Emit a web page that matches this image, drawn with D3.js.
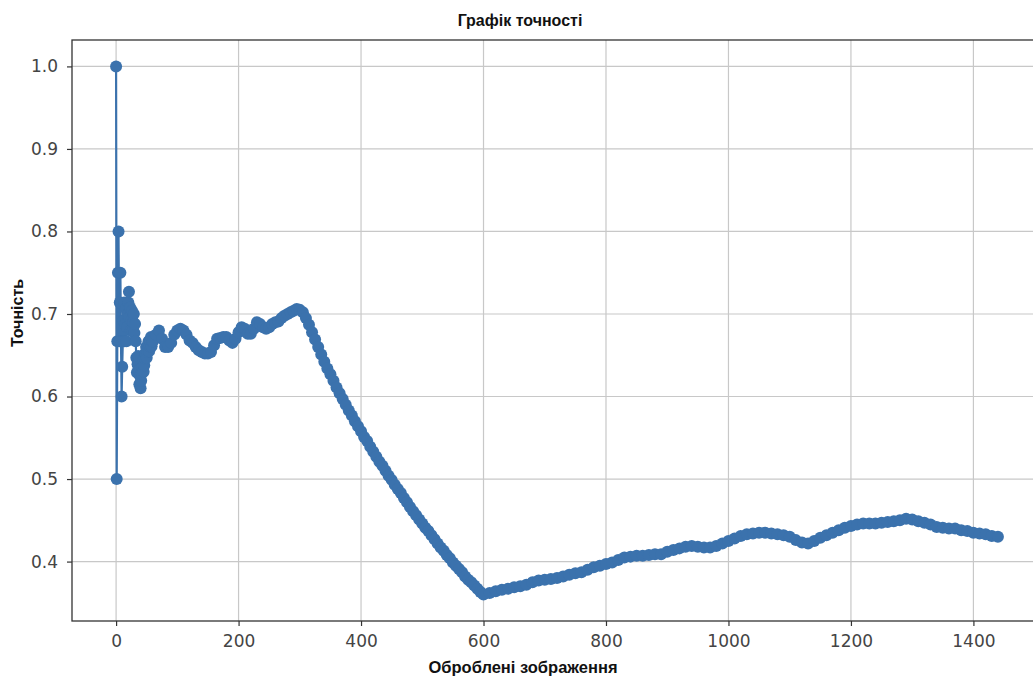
<!DOCTYPE html>
<html>
<head>
<meta charset="utf-8">
<script src="https://cdn.jsdelivr.net/npm/d3@7"></script>
<style>
  html, body { margin: 0; padding: 0; background: #fff; }
  svg { display: block; font-family: "Liberation Sans", Arial, sans-serif; }
  .axis text { font-family: "DejaVu Sans", sans-serif; font-size: 17px; fill: #444; }
  .axis path { display: none; }
  .axis line { stroke: #333; stroke-width: 1.2; }
  .grid line { stroke: #c8c8c8; stroke-width: 1.2; }
  .title, .axis-name { font-weight: bold; fill: #111; }
</style>
</head>
<body>
<svg id="chart" width="1033" height="677"></svg>
<script>
'use strict';

// Accuracy, in segments with a fixed image step.
const earlyStart = 0, earlyStep = 1;
const earlyAcc = [
  1.0, 0.5, 0.667, 0.75, 0.8, 0.667, 0.714, 0.75, 0.667, 0.6,
  0.636, 0.667, 0.692, 0.714, 0.667, 0.688, 0.706, 0.667, 0.684, 0.7,
  0.714, 0.727, 0.696, 0.708, 0.68, 0.692, 0.704, 0.679, 0.69, 0.7,
  0.677, 0.688, 0.667, 0.647, 0.629, 0.639, 0.649, 0.632, 0.615, 0.625,
  0.61, 0.619, 0.628, 0.636, 0.644, 0.63, 0.638, 0.646, 0.653, 0.66,
  0.647, 0.654, 0.66, 0.667, 0.655, 0.661, 0.667, 0.672, 0.661, 0.667
];

const midStart = 60, midStep = 5;
const midAcc = [
  0.667, 0.675, 0.680, 0.670, 0.660, 0.660, 0.665, 0.675, 0.680, 0.682,
  0.680, 0.675, 0.668, 0.665, 0.660, 0.656, 0.654, 0.652, 0.652, 0.654,
  0.662, 0.670, 0.671, 0.672, 0.672, 0.668, 0.665, 0.670, 0.678, 0.684,
  0.682, 0.676, 0.676, 0.682, 0.690, 0.688, 0.684, 0.682, 0.684, 0.688,
  0.690, 0.691, 0.695, 0.698, 0.700, 0.702, 0.704, 0.706, 0.705
];

const dropStart = 305, dropStep = 5;
const dropAcc = [
  0.702, 0.695, 0.687, 0.678, 0.669, 0.660, 0.651, 0.642, 0.634, 0.627,
  0.619, 0.611, 0.604, 0.597, 0.590, 0.583, 0.577, 0.570, 0.564, 0.558,
  0.551, 0.546, 0.539, 0.533, 0.527, 0.521, 0.516, 0.510, 0.504, 0.499,
  0.493, 0.488, 0.483, 0.477, 0.472, 0.466, 0.461, 0.456, 0.451, 0.446,
  0.441, 0.437, 0.432, 0.427, 0.422, 0.417, 0.413, 0.408, 0.404, 0.399,
  0.395, 0.391, 0.387, 0.382, 0.378, 0.375, 0.371, 0.367, 0.363, 0.360
];

const lateStart = 610, lateStep = 10;
const lateAcc = [
  0.362, 0.364, 0.366, 0.367, 0.369, 0.370, 0.372, 0.375, 0.377, 0.378,
  0.379, 0.380, 0.382, 0.384, 0.386, 0.387, 0.390, 0.393, 0.395, 0.397,
  0.399, 0.402, 0.405, 0.406, 0.407, 0.407, 0.408, 0.409, 0.409, 0.412,
  0.414, 0.416, 0.418, 0.419, 0.418, 0.417, 0.417, 0.419, 0.422, 0.425,
  0.428, 0.431, 0.433, 0.434, 0.435, 0.435, 0.434, 0.433, 0.432, 0.430,
  0.426, 0.423, 0.422, 0.425, 0.429, 0.432, 0.435, 0.438, 0.441, 0.443,
  0.445, 0.446, 0.446, 0.446, 0.447, 0.448, 0.449, 0.450, 0.452, 0.451,
  0.449, 0.447, 0.445, 0.442, 0.441, 0.440, 0.440, 0.438, 0.437, 0.435,
  0.434, 0.433, 0.431, 0.430
];

const xTicks = [0, 200, 400, 600, 800, 1000, 1200, 1400];
const yTicks = [0.4, 0.5, 0.6, 0.7, 0.8, 0.9, 1.0];

const titleText = 'Графік точності';
const xName = 'Оброблені зображення';
const yName = 'Точність';

// Turn a segment into {x, y} points.
const segment = (start, step, values) => values.map((v, i) => ({ x: start + i * step, y: v }));

const data = [].concat(
  segment(earlyStart, earlyStep, earlyAcc),
  segment(midStart, midStep, midAcc),
  segment(dropStart, dropStep, dropAcc),
  segment(lateStart, lateStep, lateAcc)
);

const svg = d3.select('#chart');
const margin = { top: 40, left: 72 };
const plotWidth = 970;
const plotHeight = 581;

// Matplotlib-like 5% padding around the data.
const xExt = d3.extent(data, d => d.x);
const yExt = d3.extent(data, d => d.y);
const xPad = (xExt[1] - xExt[0]) * 0.05;
const yPad = (yExt[1] - yExt[0]) * 0.05;

const x = d3.scaleLinear()
  .domain([xExt[0] - xPad, xExt[1] + xPad])
  .range([0, plotWidth]);

const y = d3.scaleLinear()
  .domain([yExt[0] - yPad, yExt[1] + yPad])
  .range([plotHeight, 0]);

const g = svg.append('g')
  .attr('transform', `translate(${margin.left},${margin.top})`);

// Grid lines.
g.append('g')
  .classed('grid', true)
  .selectAll('line')
  .data(xTicks)
  .join('line')
  .attr('x1', d => x(d)).attr('x2', d => x(d))
  .attr('y1', 0).attr('y2', plotHeight);

g.append('g')
  .classed('grid', true)
  .selectAll('line')
  .data(yTicks)
  .join('line')
  .attr('x1', 0).attr('x2', plotWidth)
  .attr('y1', d => y(d)).attr('y2', d => y(d));

// Axes.
g.append('g')
  .classed('axis axis-x', true)
  .attr('transform', `translate(0,${plotHeight})`)
  .call(d3.axisBottom(x).tickValues(xTicks).tickFormat(d3.format('d')).tickSize(5).tickPadding(9));

g.append('g')
  .classed('axis axis-y', true)
  .call(d3.axisLeft(y).tickValues(yTicks).tickFormat(d3.format('.1f')).tickSize(5).tickPadding(9));

// The series: line plus round markers.
const color = '#3b72ad';
const line = d3.line().x(d => x(d.x)).y(d => y(d.y));

g.append('path')
  .datum(data)
  .attr('fill', 'none')
  .attr('stroke', color)
  .attr('stroke-width', 2.2)
  .attr('d', line);

g.append('g')
  .selectAll('circle')
  .data(data)
  .join('circle')
  .attr('cx', d => x(d.x))
  .attr('cy', d => y(d.y))
  .attr('r', 6)
  .attr('fill', color);

// Spines.
g.append('rect')
  .attr('width', plotWidth)
  .attr('height', plotHeight)
  .attr('fill', 'none')
  .attr('stroke', '#333')
  .attr('stroke-width', 1.3);

// Texts.
svg.append('text')
  .classed('title', true)
  .attr('x', 520)
  .attr('y', 26)
  .attr('text-anchor', 'middle')
  .attr('font-size', 16)
  .text(titleText);

svg.append('text')
  .classed('axis-name', true)
  .attr('x', 523)
  .attr('y', 673)
  .attr('text-anchor', 'middle')
  .attr('font-size', 16.5)
  .text(xName);

svg.append('text')
  .classed('axis-name', true)
  .attr('transform', 'translate(23,313) rotate(-90)')
  .attr('text-anchor', 'middle')
  .attr('font-size', 16)
  .text(yName);
</script>
</body>
</html>
